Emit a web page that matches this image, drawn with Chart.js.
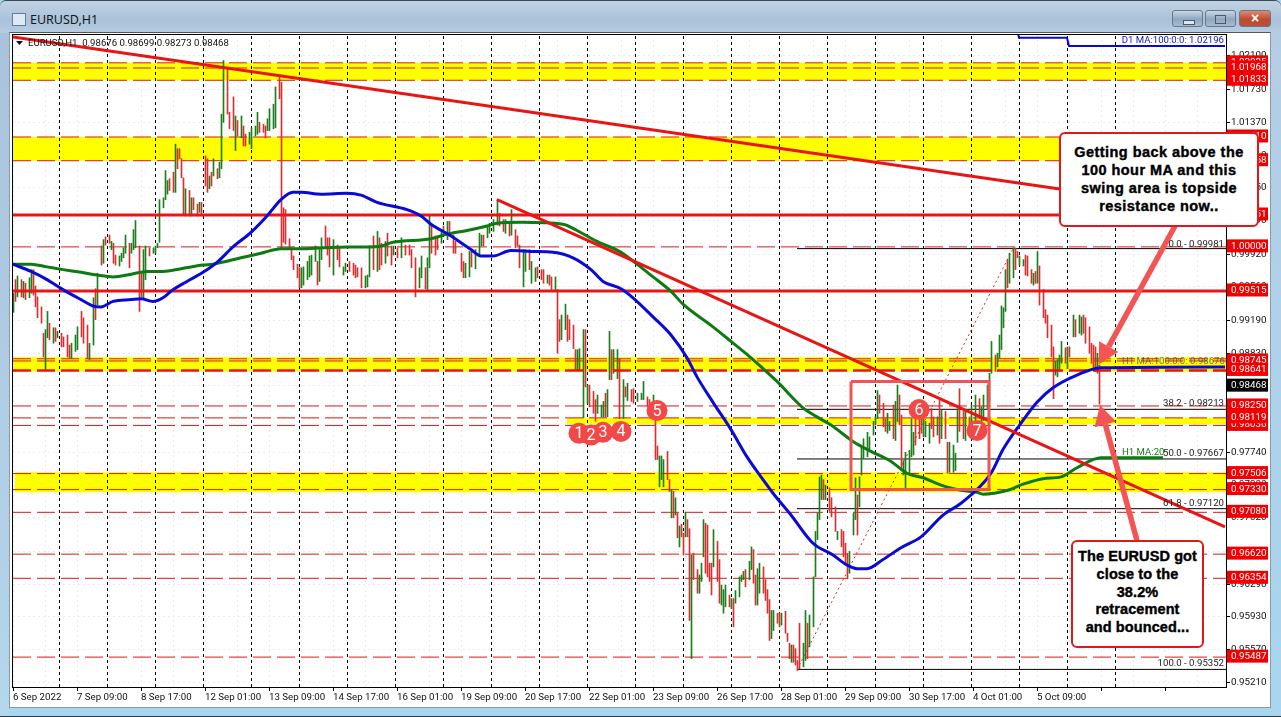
<!DOCTYPE html>
<html><head><meta charset="utf-8"><title>EURUSD,H1</title>
<script src="https://cdn.jsdelivr.net/npm/chart.js@4"></script>
<style>
html,body{margin:0;padding:0;width:1281px;height:717px;overflow:hidden;background:#a9d6ef}
#title{position:absolute;left:0;top:0;width:1281px;height:33px;background:linear-gradient(#c2d2e2,#a9c2da 60%,#b7cde2);border-top:1px solid #34495c;box-sizing:border-box;border-radius:6px 6px 0 0}
#lstrip{position:absolute;left:0;top:33px;width:9px;height:684px;background:linear-gradient(#a9c3dc,#b5d6ec)}
#rstrip{position:absolute;left:1271px;top:33px;width:10px;height:684px;background:linear-gradient(#b3cde4,#a9d6ef)}
#panel{position:absolute;left:9px;top:32px;width:1262px;height:676px;background:#fff;border:1px solid #8a9aa8;box-sizing:border-box;border-top-color:#555}
#bottom{position:absolute;left:0;top:716px;width:1281px;height:1px;background:#2a3a48}
#ttl{position:absolute;left:30px;top:11px;font:12.5px "Noto Sans",sans-serif;color:#101820}
#icon{position:absolute;left:12px;top:13px;width:12px;height:11px;background:#dfe9f3;border:1px solid #5f7f9f}
.btn{position:absolute;top:10px;height:17px;border:1px solid #66788a;border-radius:3px;box-sizing:border-box;background:linear-gradient(#c9d7e5,#8fa7bf 55%,#a8bcd0)}
.btn.x{background:linear-gradient(#dc8a74,#c24a33 55%,#b5503c);color:#fff;font:bold 14px/14px "Liberation Sans",sans-serif;text-align:center}
#mn{position:absolute;left:1183px;top:20px;width:10px;height:3px;border:1px solid #4a5a6a;background:#dde6ee}
#rs{position:absolute;left:1215px;top:15px;width:9px;height:7px;border:1px solid #4a5a6a}
canvas{position:absolute;left:0;top:0}
.call{position:absolute;background:#fff;border:2px solid #e0181c;border-radius:6px;box-sizing:border-box;font:bold 14.5px/18px "Liberation Sans",sans-serif;color:#000;text-align:center;-webkit-text-stroke:.4px #000}
</style></head><body>
<div id="title"></div><div id="lstrip"></div><div id="rstrip"></div><div id="panel"></div><div id="bottom"></div>
<div id="icon"></div><div id="ttl">EURUSD,H1</div>
<div class="btn" style="left:1172px;width:31px"></div><div id="mn"></div>
<div class="btn" style="left:1205px;width:31px"></div><div id="rs"></div>
<div class="btn x" style="left:1239px;width:32px">×</div>
<canvas id="c" width="1281" height="717"></canvas>
<div class="call" style="left:1059px;top:132px;width:200px;height:95px;padding-top:9px;letter-spacing:.45px">Getting back above the<br>100 hour MA and this<br>swing area is topside<br>resistance now..</div>
<div class="call" style="left:1071px;top:540px;width:133px;height:108px;padding-top:6px;letter-spacing:.1px;line-height:17.8px">The EURUSD got<br>close to the<br>38.2%<br>retracement<br>and bounced...</div>
<script>
// Hourly bars, prices in 1/10000
const barHours=[0,1,2,4,5,6,8,9,10,11,12,14,15,16,17,18,20,21,22,24,25,27,28,29,31,32,34,35,37,38,40,41,42,44,45,46,48,49,50,51,53,54,55,56,58,59,
60,61,63,64,65,66,68,70,71,72,73,75,76,77,78,80,81,82,83,84,85,86,88,89,90,92,93,94,96,97,98,99,100,102,103,104,105,107,108,110,111,112,114,115,116,118,119,121,122,123,125,126,127,128,130,131,133,134,135,136,138,139,140,142,143,
144,145,147,148,149,151,152,153,154,156,157,158,160,162,163,165,166,168,170,171,172,174,176,177,178,180,182,183,184,186,187,189,190,192,194,196,198,199,201,203,204,206,207,208,209,211,212,214,215,217,218,220,221,224,225,226,228,229,231,233,234,235,237,238,240,242,243,245,246,248,249,251,252,253,255,256,258,259,261,262,264,265,267,268,269,271,
272,273,274,276,277,278,280,281,282,283,285,286,287,288,290,291,292,294,295,296,297,298,299,300,302,303,305,306,307,309,310,312,314,315,317,318,320,
321,322,323,324,325,327,328,329,330,331,332,333,334,335,336,337,338,339,340,342,343,344,345,346,347,348,349,350,352,353,354,355,356,358,359,360,361,363,364,365,366,368,369,370,371,372,373,375,376,377,378,379,380,382,383,384,386,387,388,389,390,391,392,393,395,396,397,398,400,401,402,403,404,405,406,408,409,411,412,414,415,416,417,418,420,421,422,423,
424,425,427,428,430,431,432,433,435,436,437,438,440,441,442,443,444,445,446,448,449,450,451,453,454,455,456,458,459,460,462,463,464,466,467,468,470,471,472,473,475,476,478,479,481,483,484,485,487,488,
489,491,492,493,494,495,496,497,498,500,501,502,503,505,506,507,509,510,511,512,513,515,516,517,519,520,521,522,523,524,526,527,528,530,531,533,534,535,536,538,539,540,541,542,543];
const barHighs=[9949,9964,9968,9964,9962,9960,9966,9975,9975,9957,9945,9934,9905,9909,9929,9916,9911,9911,9907,9905,9901,9903,9892,9894,9903,9912,9929,9922,9914,9894,9944,9954,9971,10001,10008,10011,10013,10006,10004,9991,9990,9993,9999,10013,10004,10004,
10019,10029,10001,9973,9997,10001,9999,9999,10001,10004,10052,10054,10084,10073,10075,10082,10113,10108,10108,10097,10076,10064,10062,10054,10054,10047,10049,10049,10100,10097,10078,10082,10097,10086,10093,10146,10205,10196,10148,10165,10144,10139,10144,10133,10124,10126,10131,10133,10148,10137,10135,10133,10141,10152,10157,10176,10187,10181,10043,10041,10009,9999,9990,9981,9977,
9977,9978,9984,9990,9991,10001,9984,9997,10010,10023,10010,10010,10008,10002,9999,9978,9982,9984,9982,9980,9977,9977,9968,9969,10001,10012,10017,10010,10004,10006,10015,10001,10001,9999,10010,10002,10002,9997,9988,9977,9990,9977,9988,10035,10024,10012,10010,10019,10023,10028,10028,10013,10006,9993,9984,9982,9995,9997,9997,10015,10013,10013,10023,10026,10030,10052,10037,10030,10030,10028,10041,10019,10012,10002,9997,9997,9997,9984,9977,9978,9975,9975,9969,9969,9967,9967,
9953,9920,9925,9937,9925,9920,9914,9887,9887,9888,9909,9909,9848,9848,9841,9832,9837,9826,9830,9839,9843,9907,9887,9887,9887,9877,9854,9846,9850,9843,9844,9839,9839,9852,9835,9832,9837,
9810,9781,9770,9770,9766,9775,9744,9733,9731,9724,9707,9693,9695,9685,9708,9700,9690,9661,9663,9645,9639,9652,9700,9696,9694,9652,9652,9689,9676,9656,9628,9623,9628,9617,9613,9613,9622,9637,9639,9643,9645,9654,9670,9667,9639,9646,9652,9648,9634,9623,9612,9600,9600,9597,9597,9597,9599,9575,9564,9562,9562,9558,9545,9586,9564,9600,9586,9595,9637,9687,9707,9747,9749,9744,9738,9735,9724,9714,9687,9689,9687,9674,9663,9665,9707,9746,9727,9747,
9780,9789,9796,9791,9808,9813,9842,9837,9828,9811,9817,9808,9826,9830,9848,9837,9815,9765,9774,9776,9811,9796,9811,9813,9811,9815,9808,9806,9822,9813,9813,9831,9820,9819,9785,9785,9782,9773,9822,9844,9819,9819,9813,9826,9837,9833,9824,9837,9848,9861,
9896,9881,9883,9903,9935,9933,9975,9986,9993,9999,9999,9995,9990,9986,9991,9990,9975,9971,9973,9995,9979,9953,9931,9925,9914,9890,9874,9876,9881,9896,9889,9890,9890,9925,9920,9925,9923,9925,9922,9912,9894,9892,9890,9883,9870];
const barLows=[9928,9940,9945,9945,9944,9942,9944,9949,9947,9934,9922,9916,9879,9865,9900,9898,9894,9896,9900,9890,9890,9879,9877,9877,9885,9887,9901,9894,9877,9876,9892,9920,9936,9980,9982,10002,10004,9997,9982,9980,9979,9984,9988,9993,9977,9993,
9997,9999,9929,9945,9944,9964,9990,9993,9993,9999,10005,10043,10052,10058,10062,10060,10060,10086,10097,10076,10036,10034,10034,10034,10041,10034,10038,10034,10067,10060,10064,10067,10078,10075,10076,10086,10137,10146,10130,10128,10106,10122,10120,10111,10111,10113,10108,10122,10124,10126,10126,10120,10128,10128,10130,10131,10163,9999,10005,10003,9997,9986,9975,9966,9955,
9955,9958,9964,9967,9969,9984,9958,9962,9986,10001,9991,9978,9969,9986,9978,9969,9973,9973,9969,9966,9967,9955,9955,9956,9967,9975,9973,9975,9980,9982,9990,9980,9991,9988,9988,9991,9991,9977,9945,9955,9966,9954,9953,9977,9993,9991,9997,10004,10015,10008,10012,9993,9993,9973,9966,9966,9967,9978,9976,9991,10001,10001,10010,10015,10017,10024,10023,10017,10015,10012,10013,9999,10001,9977,9956,9973,9975,9960,9962,9966,9964,9960,9960,9958,9953,9953,
9883,9896,9898,9909,9896,9898,9888,9865,9865,9865,9812,9846,9828,9824,9817,9808,9817,9813,9813,9813,9813,9854,9854,9861,9855,9811,9811,9835,9831,9830,9828,9830,9832,9832,9824,9817,9820,
9766,9766,9736,9744,9736,9744,9731,9702,9702,9705,9680,9670,9681,9661,9681,9681,9589,9547,9634,9619,9619,9632,9659,9641,9637,9632,9617,9648,9632,9608,9606,9597,9604,9604,9602,9582,9608,9615,9632,9634,9626,9634,9645,9630,9606,9606,9619,9619,9611,9597,9567,9569,9578,9586,9582,9584,9575,9566,9547,9543,9543,9540,9534,9536,9538,9545,9547,9560,9582,9637,9678,9700,9722,9722,9722,9709,9703,9687,9678,9670,9659,9652,9635,9641,9683,9700,9683,9714,
9749,9767,9769,9778,9793,9804,9811,9817,9802,9797,9795,9798,9789,9787,9808,9804,9754,9749,9734,9749,9769,9771,9782,9789,9795,9791,9791,9784,9800,9791,9793,9784,9789,9789,9751,9752,9752,9754,9785,9797,9789,9787,9798,9797,9808,9811,9802,9809,9822,9830,
9861,9863,9868,9878,9887,9911,9929,9955,9960,9966,9975,9988,9980,9979,9969,9968,9960,9958,9960,9960,9936,9922,9916,9900,9879,9833,9859,9857,9863,9872,9872,9866,9879,9901,9901,9905,9903,9905,9894,9883,9872,9865,9863,9861,9827];
const barUps=[1,0,1,0,1,0,1,1,0,0,0,0,0,1,1,0,1,0,1,0,0,0,0,1,1,1,0,0,0,1,1,0,1,0,1,0,0,1,0,0,1,1,1,1,0,1,
1,1,0,0,1,1,0,1,1,1,1,1,1,1,0,0,1,0,0,0,0,1,0,1,0,0,1,0,0,0,1,0,1,0,1,1,1,0,0,0,1,0,1,0,0,1,1,1,1,0,0,0,1,1,1,1,0,0,0,0,0,0,0,0,0,
1,1,1,1,1,1,0,1,1,0,0,0,1,0,0,1,1,0,0,0,0,0,1,1,1,0,1,0,0,1,0,0,1,0,1,0,0,0,0,1,1,0,1,1,0,0,0,1,0,1,0,0,0,0,0,1,1,0,1,1,1,0,1,1,1,1,0,0,1,0,1,0,0,0,1,1,0,1,1,0,0,0,1,0,0,1,
0,0,1,1,0,0,0,0,1,1,1,0,1,0,0,0,1,1,1,0,1,1,0,1,1,0,1,0,1,0,0,1,1,1,0,0,1,
0,0,1,1,1,0,0,1,0,1,0,1,0,0,1,0,0,1,0,0,1,1,1,0,0,0,0,1,0,0,1,1,1,0,1,0,1,1,1,1,0,1,1,0,0,1,1,0,0,0,0,1,1,0,0,1,0,0,0,1,0,0,0,0,1,1,0,1,1,1,1,1,1,0,1,0,0,0,1,0,0,0,0,1,1,1,0,1,
1,1,1,1,1,1,1,0,0,0,1,1,0,1,1,0,0,1,1,1,1,1,0,0,0,1,1,1,0,0,1,0,1,0,0,1,1,1,1,0,0,1,0,1,1,0,1,1,1,1,
1,0,1,1,1,1,1,0,1,1,0,0,1,1,0,0,0,1,0,1,0,0,0,0,0,0,1,1,1,1,0,1,0,1,0,1,1,0,0,0,0,0,0,1,0];

// Moving averages
const ma100Hours=[0,9,17,25,34,40,44,50,59,64,70,75,80,87,95,102,110,119,127,134,140,144,154,167,174,182,197,204,209,219,229,234,240,249,259,270,280,289,295,304,310,320,329,337,342,350,359,367,375,380,389,400,410,417,422,427,435,444,454,465,474,489,495,504,512,520,532,544,606];
const ma100Values=[9981,9973,9964,9953,9942,9935,9934,9940,9942,9943,9940,9944,9953,9962,9972,9983,10000,10016,10034,10052,10060,10060,10058,10059,10057,10049,10041,10034,10025,10012,9997,9990,9990,9996,9995,9994,9988,9975,9962,9954,9944,9923,9903,9878,9857,9829,9799,9769,9744,9729,9705,9674,9661,9650,9646,9646,9656,9669,9681,9705,9718,9751,9777,9806,9829,9845,9859,9867,9868];
const ma200Hours=[0,9,17,25,34,42,50,59,67,75,84,95,100,114,124,134,144,155,167,177,184,190,209,217,227,237,242,254,275,282,292,304,312,320,329,335,350,359,369,382,395,402,409,420,429,439,447,455,464,472,482,485,497,505,515,524,532,544,575];
const ma200Values=[9981,9981,9978,9975,9972,9969,9967,9970,9973,9973,9976,9980,9981,9988,9993,9998,9998,9999,10000,10000,10001,10005,10009,10014,10018,10023,10026,10027,10025,10018,10006,9994,9981,9967,9951,9937,9912,9896,9878,9852,9823,9813,9804,9786,9775,9764,9751,9746,9738,9733,9730,9728,9732,9739,9745,9747,9757,9768,9768];
const d1Hours=[502,503,527,528,606];
const d1Values=[10240,10230,10230,10221,10221];

// Horizontal levels and zones (prices)
const dashedLevels=[1.02025,1.01968,1.01833,1.01209,1.00948,1.00000,0.98769,0.98745,0.98250,0.98119,0.98036,0.97506,0.97330,0.97080,0.96620,0.96354,0.95487];
const heavyDashedLevels=[0.98641];
const solidLevels=[1.00351,0.99515];
const zoneTops=[1.02025,1.01209,0.98785,0.98119,0.97520];
const zoneBottoms=[1.01833,1.00948,0.98630,0.98050,0.97300];
const zoneStartHours=[0,0,0,277,1];
const fibLevels=[0.99981,0.98213,0.97667,0.97120,0.95352];
const fibLabels=["0.0 - 0.99981","38.2 - 0.98213","50.0 - 0.97667","61.8 - 0.97120","100.0 - 0.95352"];
const trendA=[[0,10231],[544,10057]];
const trendB=[[242,10052],[606,9692]];
const fibDiagonal=[[392,9535],[500,9998]];
const boxHours=[419,488]; const boxPrices=[9852,9733];
const markerLabels=["1","2","3","4","5","6","7"];
const markerHours=[283,289,295,304,322,453,482];
const markerPrices=[9795,9793,9796,9797,9820,9821,9798];
const arrows=[[581,10023,543,9871],[562,9677,543.5,9826]];

// Axis
const priceTicks=[1.0210,1.0173,1.0137,1.0101,1.0065,1.0029,0.9992,0.9956,0.9919,0.9883,0.9847,0.9811,0.9774,0.9738,0.9702,0.9665,0.9629,0.9593,0.9557,0.9521];
const timeLabels=["6 Sep 2022","7 Sep 09:00","8 Sep 17:00","12 Sep 01:00","13 Sep 09:00","14 Sep 17:00","16 Sep 01:00","19 Sep 09:00","20 Sep 17:00","22 Sep 01:00","23 Sep 09:00","26 Sep 17:00","28 Sep 01:00","29 Sep 09:00","30 Sep 17:00","4 Oct 01:00","5 Oct 09:00"];
const redTags=[1.02025,1.01968,1.01833,1.01209,1.00948,1.00351,1.00000,0.99515,0.98745,0.98641,0.98250,0.98036,0.98119,0.97506,0.97330,0.97080,0.96620,0.96354,0.95487];
const tagTexts=["1.02025","1.01968","1.01833","1.01210","1.00958","1.00351","1.00000","0.99515","0.98745","0.98641","0.98250","0.98036","0.98119","0.97506","0.97330","0.97080","0.96620","0.96354","0.95487"];
const lastPrice=0.98468;

const X_MAX=606.5, Y_MAX=1.02331, Y_MIN=0.951583;
const P=v=>v/10000;
const FONT='Roboto, "Liberation Sans", sans-serif';
const line=(pts,o)=>Object.assign({type:'line',data:pts,pointRadius:0,borderWidth:1,fill:false,tension:0},o);
const hline=(y,o,start=0)=>line([{x:start,y},{x:X_MAX,y}],o);
const ds=[];
zoneTops.forEach((t,i)=>ds.push(hline(t,{borderWidth:0,borderColor:'transparent',backgroundColor:'#ffff00',fill:{value:zoneBottoms[i]},order:20},zoneStartHours[i])));
const sep=[];
for(let k=0;k<23;k++){const h=23.25+24*k;sep.push({x:h,y:Y_MIN},{x:h,y:Y_MAX},{x:h,y:NaN});}
ds.push(line(sep,{borderColor:'#000',borderDash:[3,3],order:18,spanGaps:false}));
dashedLevels.forEach(v=>ds.push(hline(v,{borderColor:'#d81818',borderDash:[18,6],order:17})));
fibLevels.forEach(v=>ds.push(hline(v,{borderColor:'#000',order:16},392)));
ds.push(line(fibDiagonal.map(p=>({x:p[0],y:P(p[1])})),{borderColor:'#e02020',borderDash:[2,3],order:15}));
ds.push({type:'bar',data:barHours.map((h,i)=>({x:h+.25,y:[P(barLows[i]),P(barHighs[i])]})),
  backgroundColor:barUps.map(u=>u?'#1c7f1c':'#d43232'),barThickness:1,order:10});
heavyDashedLevels.forEach(v=>ds.push(hline(v,{borderColor:'#ee1010',borderWidth:2.5,borderDash:[18,6],order:8})));
solidLevels.forEach(v=>ds.push(hline(v,{borderColor:'#ee1414',borderWidth:3,order:7})));
ds.push(line(ma200Hours.map((h,i)=>({x:h,y:P(ma200Values[i])})),{borderColor:'#0d7a12',borderWidth:3,cubicInterpolationMode:'monotone',order:6}));
ds.push(line(ma100Hours.map((h,i)=>({x:h,y:P(ma100Values[i])})),{borderColor:'#0a0ad8',borderWidth:3,cubicInterpolationMode:'monotone',order:5}));
ds.push(line(d1Hours.map((h,i)=>({x:h,y:P(d1Values[i])})),{borderColor:'#0a0ad8',borderWidth:2,order:5}));
[trendA,trendB].forEach(t=>ds.push(line(t.map(p=>({x:p[0],y:P(p[1])})),{borderColor:'#ea1414',borderWidth:3,order:4})));
ds.push(line([[0,0],[1,0],[1,1],[0,1],[0,0]].map(q=>({x:boxHours[q[0]],y:P(boxPrices[q[1]])})),{borderColor:'#ee5555',borderWidth:3,order:3}));
ds.push(line(markerHours.map((h,i)=>({x:h,y:P(markerPrices[i])})),{showLine:false,pointRadius:10.5,pointBackgroundColor:'#f24848',pointBorderWidth:0,order:2}));

const overlay={id:'overlay',
 afterDatasetsDraw(c){
  const g=c.ctx,x=c.scales.x,y=c.scales.y,a=c.chartArea;
  g.save();
  g.strokeStyle='#000';g.lineWidth=1;g.strokeRect(a.left-.5,a.top-.5,a.right-a.left+1,a.bottom-a.top+1);
  g.fillStyle='#fff';g.font='16px '+FONT;g.textAlign='center';g.textBaseline='middle';
  markerLabels.forEach((t,i)=>g.fillText(t,x.getPixelForValue(markerHours[i]),y.getPixelForValue(P(markerPrices[i]))+1));
  arrows.forEach(r=>{
    const x0=x.getPixelForValue(r[0]),y0=y.getPixelForValue(P(r[1])),x1=x.getPixelForValue(r[2]),y1=y.getPixelForValue(P(r[3]));
    const ang=Math.atan2(y1-y0,x1-x0),hl=20,hw=11;
    const bx=x1-Math.cos(ang)*hl,by=y1-Math.sin(ang)*hl;
    g.strokeStyle='#f35454';g.fillStyle='#f35454';g.lineWidth=5.5;
    g.beginPath();g.moveTo(x0,y0);g.lineTo(bx,by);g.stroke();
    g.beginPath();g.moveTo(x1,y1);g.lineTo(bx-Math.sin(ang)*hw,by+Math.cos(ang)*hw);g.lineTo(bx+Math.sin(ang)*hw,by-Math.cos(ang)*hw);g.closePath();g.fill();
  });
  g.font='9.6px '+FONT;g.textBaseline='middle';g.textAlign='left';g.fillStyle='#111';
  g.fillText('EURUSD,H1  0.98676 0.98699 0.98273 0.98468',28,43.5);
  g.beginPath();g.moveTo(16,41);g.lineTo(23,41);g.lineTo(19.5,45);g.closePath();g.fill();
  g.textAlign='right';g.textBaseline='alphabetic';g.fillStyle='#222';
  const rx=a.right-2;
  fibLevels.forEach((v,i)=>g.fillText(fibLabels[i],rx,y.getPixelForValue(v)-(i==0?2:3)));
  g.fillStyle='#1515c8';g.textBaseline='middle';
  g.fillText('D1 MA:100:0:0: 1.02196',rx,41);
  g.textAlign='left';g.fillStyle='rgba(60,60,150,.75)';
  g.fillText('H1 MA:100:0:0: 0.98676',1122,361.5);
  g.fillStyle='#1a7a1a';
  g.fillText('H1 MA:20',1122,452.5);
  g.restore();
 },
 afterDraw(c){
  const g=c.ctx,y=c.scales.y;
  g.save();g.textBaseline='middle';g.textAlign='left';g.font='9.8px '+FONT;
  const tag=(v,t,bg)=>{const py=y.getPixelForValue(v)-1;g.fillStyle=bg;g.fillRect(1227,py-6.5,41,13);g.fillStyle='#fff';g.fillText(t,1231,py+.5);};
  redTags.forEach((v,i)=>tag(v,tagTexts[i],'#f00000'));
  tag(lastPrice,lastPrice.toFixed(5),'#000');
  g.restore();
 }};

new Chart(document.getElementById('c'),{
 type:'bar',
 data:{datasets:ds},
 plugins:[overlay],
 options:{responsive:false,animation:false,devicePixelRatio:1,
  layout:{padding:{left:13,top:35,right:0,bottom:0}},
  plugins:{legend:{display:false},tooltip:{enabled:false}},
  scales:{
   x:{type:'linear',min:0,max:X_MAX,offset:false,
    afterBuildTicks(s){const t=[];for(let h=0;h<=X_MAX;h+=16)t.push({value:h});s.ticks=t;},
    afterFit(s){s.height=30;},
    grid:{color:'#ececec',lineWidth:1,tickLength:4,tickColor:ctx=>ctx.index%2?'transparent':'#000',offset:false},
    border:{color:'#000',dash:[2,3]},
    ticks:{autoSkip:false,maxRotation:0,minRotation:0,align:'start',padding:1,color:'#111',font:{family:FONT,size:9.7},
     callback(v,i){return i%2?'':(timeLabels[i/2]||'');}}},
   y:{type:'linear',position:'right',min:Y_MIN,max:Y_MAX,
    afterBuildTicks(s){s.ticks=priceTicks.map(v=>({value:v}));},
    afterFit(s){s.width=55;},
    grid:{color:'#ececec',lineWidth:1,tickLength:4,tickColor:'#000'},
    border:{color:'#000',dash:[2,3]},
    ticks:{autoSkip:false,padding:1,color:'#111',font:{family:FONT,size:9.8},callback:v=>v.toFixed(5)}}
  }}
});
</script></body></html>
